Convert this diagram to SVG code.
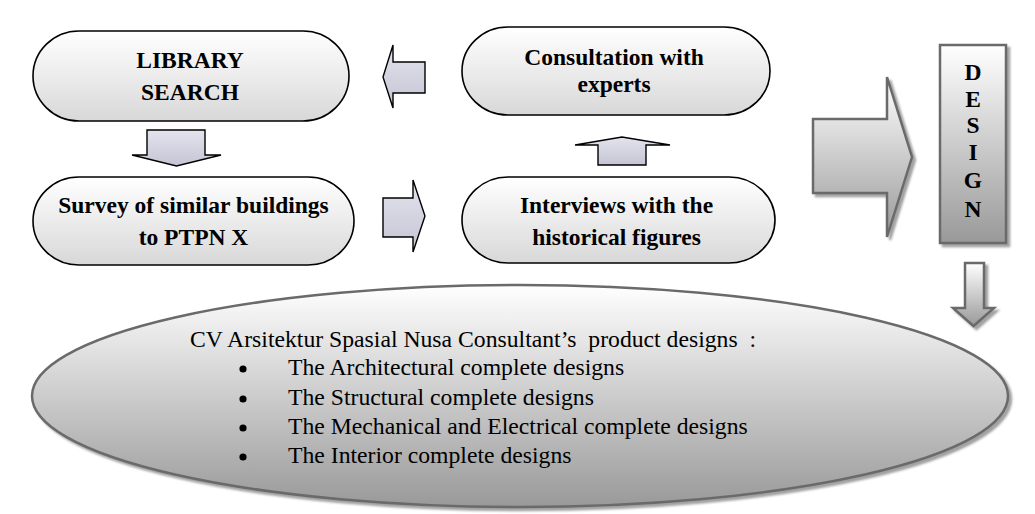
<svg xmlns="http://www.w3.org/2000/svg" width="1035" height="514" viewBox="0 0 1035 514">
<defs>
<linearGradient id="gNode" x1="0" y1="0" x2="0" y2="1">
<stop offset="0" stop-color="#ffffff"/>
<stop offset="1" stop-color="#d8d8d8"/>
</linearGradient>
<linearGradient id="gArrow" x1="0" y1="0" x2="0" y2="1">
<stop offset="0" stop-color="#e4e4ee"/>
<stop offset="1" stop-color="#c4c4d4"/>
</linearGradient>
<linearGradient id="gGray" x1="0" y1="0" x2="0" y2="1">
<stop offset="0" stop-color="#ffffff"/>
<stop offset="1" stop-color="#999999"/>
</linearGradient>
<filter id="shadow" x="-10%" y="-10%" width="130%" height="130%">
<feDropShadow dx="3" dy="3" stdDeviation="1.2" flood-color="#8a8a8a" flood-opacity="0.8"/>
</filter>
<style>
.node{fill:url(#gNode);stroke:#000;stroke-width:1.6}
.arr{fill:url(#gArrow);stroke:#000;stroke-width:1.4;stroke-linejoin:miter}
.big{fill:url(#gGray);stroke:#6a6a6a;stroke-width:2.5;filter:url(#shadow)}
.bt{font-family:"Liberation Serif","Times New Roman",serif;font-weight:bold;font-size:23.5px;fill:#000;text-anchor:middle}
.rt{font-family:"Liberation Serif","Times New Roman",serif;font-size:23.7px;fill:#000}
</style>
</defs>

<g id="connectors">
<polygon class="arr" points="383,77 393,45 393,62 425,62 425,93 393,93 393,108"/>
<polygon class="arr" points="147,130 205,130 205,155 221,155 176.5,166 132,155 147,155"/>
<polygon class="arr" points="383,198 413,198 413,180 425,216 413,252 413,237 383,237"/>
<polygon class="arr" points="598,165 598,145 575,145 622,137 670,145 646,145 646,165"/>
<polygon class="big" points="813,119 887,119 887,77 912,157 887,237 887,193 813,193"/>
<polygon class="big" points="965,263 984,263 984,308 994,308 973.5,326 953,308 965,308"/>
</g>

<g id="library">
<rect class="node" x="33" y="31" width="316" height="90" rx="46" ry="45"/>
<text class="bt" x="190" y="68">LIBRARY</text>
<text class="bt" x="190" y="100">SEARCH</text>
</g>

<g id="survey">
<rect class="node" x="33" y="177" width="321" height="88" rx="46" ry="44"/>
<text class="bt" x="193.5" y="213">Survey of similar buildings</text>
<text class="bt" x="193.5" y="245">to PTPN X</text>
</g>

<g id="consultation">
<rect class="node" x="462" y="27" width="308" height="88" rx="46" ry="44"/>
<text class="bt" x="614" y="65">Consultation with</text>
<text class="bt" x="614" y="92">experts</text>
</g>

<g id="interviews">
<rect class="node" x="462" y="177" width="313" height="86" rx="46" ry="43"/>
<text class="bt" x="616.5" y="213">Interviews with the</text>
<text class="bt" x="616.5" y="245">historical figures</text>
</g>

<g id="design">
<rect class="big" x="940" y="45" width="66" height="198"/>
<text class="bt" x="973" y="80">D</text>
<text class="bt" x="973" y="107">E</text>
<text class="bt" x="973" y="133">S</text>
<text class="bt" x="973" y="160">I</text>
<text class="bt" x="973" y="188">G</text>
<text class="bt" x="973" y="217">N</text>
</g>

<g id="products">
<ellipse class="big" cx="520" cy="396" rx="488" ry="111"/>
<text class="rt" x="190" y="347" xml:space="preserve">CV Arsitektur Spasial Nusa Consultant’s  product designs  :</text>
<circle cx="243" cy="369" r="3.6"/>
<circle cx="243" cy="399" r="3.6"/>
<circle cx="243" cy="428" r="3.6"/>
<circle cx="243" cy="457" r="3.6"/>
<text class="rt" x="288" y="375">The Architectural complete designs</text>
<text class="rt" x="288" y="405">The Structural complete designs</text>
<text class="rt" x="288" y="434">The Mechanical and Electrical complete designs</text>
<text class="rt" x="288" y="463">The Interior complete designs</text>
</g>
</svg>
